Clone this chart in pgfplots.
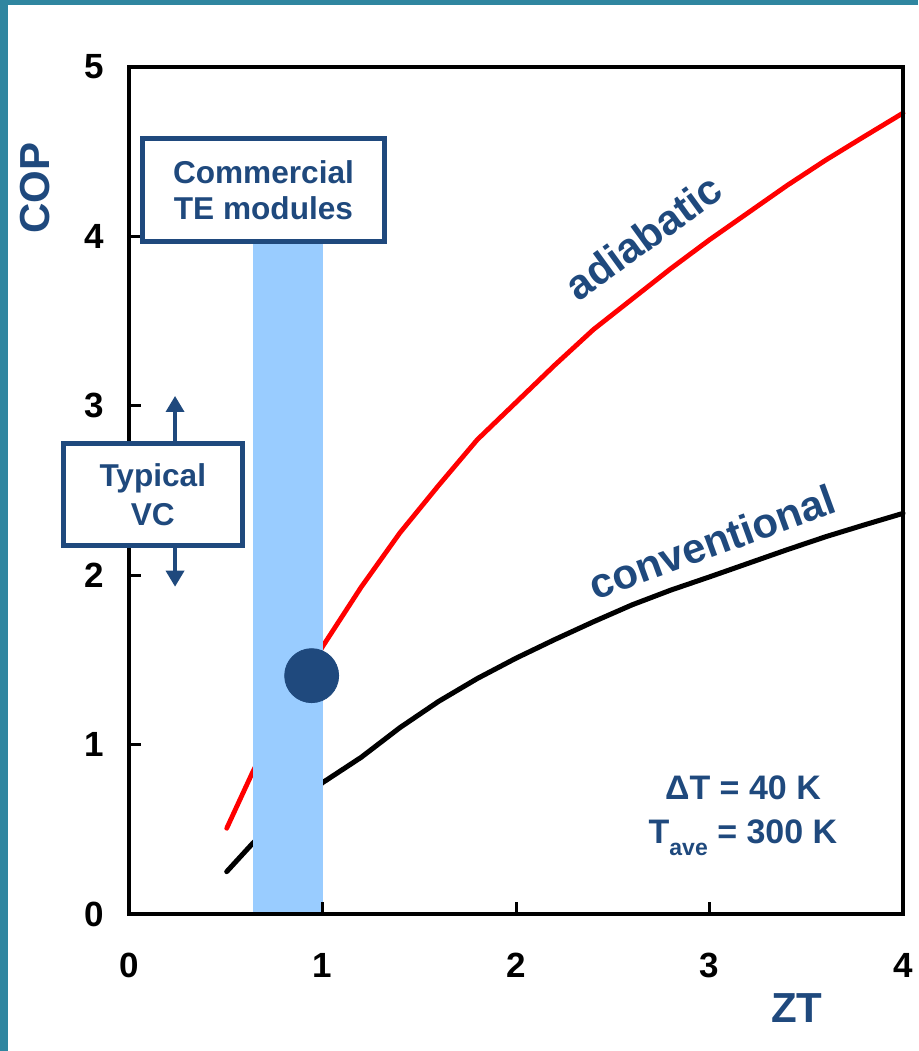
\documentclass[border=0pt]{standalone}
\usepackage{fontspec}
\setmainfont{Liberation Sans}
\usepackage{pgfplots}
\pgfplotsset{compat=1.18}
\usetikzlibrary{arrows.meta}
\definecolor{bordercol}{HTML}{2F86A0}
\definecolor{dblue}{HTML}{1F497D}
\definecolor{barblue}{HTML}{99CCFF}
\begin{document}
\begin{tikzpicture}
\path[use as bounding box] (-64.5pt,-68.5pt) rectangle (394.5pt,457pt);
\fill[bordercol] (-64.5pt,454.5pt) rectangle (394.5pt,457pt);
\fill[bordercol] (-64.5pt,-68.5pt) rectangle (-60.5pt,457pt);
\begin{axis}[
  at={(0pt,0pt)}, anchor=south west,
  scale only axis, width=387pt, height=423.5pt,
  xmin=0, xmax=4, ymin=0, ymax=5,
  clip=false, axis on top,
  axis line style={line width=2.3pt, black},
  xtick={0,1,2,3,4}, ytick={0,1,2,3,4,5},
  tick pos=left, tick align=inside, major tick length=6pt,
  tick style={line width=1.5pt, black},
  /pgf/number format/assume math mode=true,
  ticklabel style={font=\fontsize{17.5}{20}\selectfont\bfseries},
  xticklabel style={yshift=-16pt},
  yticklabel style={xshift=-9pt},
]
% adiabatic
\addplot[red, line width=2.4pt, line cap=round, line join=round] coordinates {
 (0.505,0.506) (0.64,0.84) (0.8,1.19) (1.0,1.578) (1.2,1.93) (1.4,2.25)
 (1.6,2.53) (1.8,2.80) (2.0,3.02) (2.2,3.24) (2.4,3.45) (2.6,3.63)
 (2.8,3.81) (3.0,3.98) (3.2,4.14) (3.4,4.30) (3.6,4.45) (3.8,4.59) (4.0,4.728)};
% conventional
\addplot[black, line width=2.5pt, line cap=round, line join=round] coordinates {
 (0.505,0.25) (0.639,0.417) (0.8,0.585) (1.0,0.775) (1.2,0.925) (1.4,1.10)
 (1.6,1.255) (1.8,1.39) (2.0,1.51) (2.2,1.62) (2.4,1.725) (2.6,1.825)
 (2.8,1.912) (3.0,1.99) (3.2,2.07) (3.4,2.15) (3.6,2.227) (3.8,2.297) (4.0,2.365)};
% commercial TE module band
\addplot[fill=barblue, draw=none] coordinates {
 (0.64,0.012) (1.0,0.012) (1.0,4.0) (0.64,4.0)} -- cycle;
% current point
\addplot[only marks, mark=*, mark size=13.5pt, mark options={draw=dblue, fill=dblue}] coordinates {(0.944,1.407)};

\node[dblue, font=\fontsize{21}{24}\selectfont\bfseries, rotate=36, anchor=base] at (axis cs:2.704,3.925) {adiabatic};
\node[dblue, font=\fontsize{21}{24}\selectfont\bfseries, rotate=20, anchor=base] at (axis cs:3.039,2.113) {conventional};
\node[dblue, font=\fontsize{17}{20}\selectfont\bfseries, anchor=base] at (axis cs:3.173,0.673) {ΔT = 40 K};
\node[dblue, font=\fontsize{17}{20}\selectfont\bfseries, anchor=base] at (axis cs:3.173,0.417) {T\raisebox{-6pt}{\fontsize{11.5}{12}\selectfont ave} = 300 K};
\node[dblue, font=\fontsize{21}{24}\selectfont\bfseries, rotate=90] at (axis cs:-0.486,4.286) {COP};
\node[dblue, font=\fontsize{21}{24}\selectfont\bfseries] at (axis cs:3.452,-0.555) {ZT};

\draw[dblue, line width=1.75pt, -{Triangle[width=9pt,length=8pt]}] (axis cs:0.238,2.75) -- (axis cs:0.238,3.058);
\draw[dblue, line width=1.75pt, -{Triangle[width=9pt,length=8pt]}] (axis cs:0.238,2.2) -- (axis cs:0.238,1.932);
\coordinate (cm) at (axis cs:0.695,4.274);
\coordinate (vc) at (axis cs:0.123,2.475);
\end{axis}
\node[draw=dblue, line width=2.5pt, fill=white, minimum width=121pt, minimum height=51.5pt,
  align=center, text=dblue, font=\fontsize{15.8}{18}\selectfont\bfseries, inner sep=0pt] at (cm) {Commercial\\TE modules};
\node[draw=dblue, line width=2.5pt, fill=white, minimum width=89.5pt, minimum height=51pt,
  align=center, text=dblue, font=\fontsize{15.8}{19.5}\selectfont\bfseries, inner sep=0pt] at (vc) {Typical\\VC};
\end{tikzpicture}
\end{document}
